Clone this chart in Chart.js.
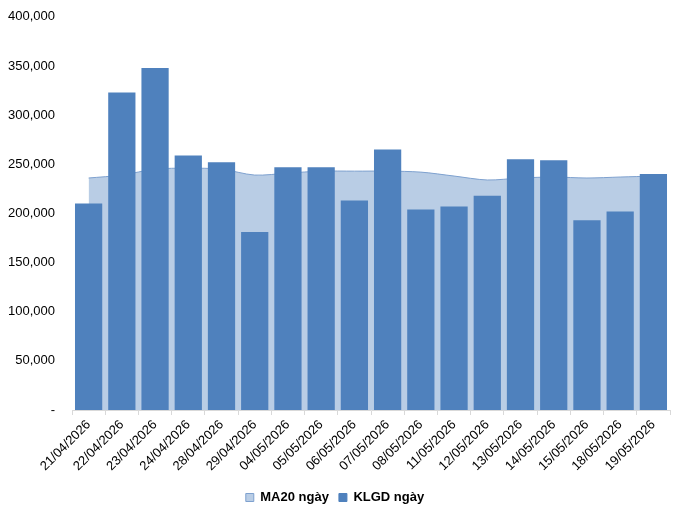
<!DOCTYPE html>
<html>
<head>
<meta charset="utf-8">
<script src="https://cdn.jsdelivr.net/npm/chart.js@4"></script>
<style>
  html, body { margin: 0; padding: 0; background: #fff; }
  #wrap { width: 677px; height: 509px; }
</style>
</head>
<body>
<div id="wrap"><canvas id="chart" width="677" height="509"></canvas></div>
<script>
// dates on the x axis
const dates = [
  '21/04/2026', '22/04/2026', '23/04/2026', '24/04/2026', '28/04/2026', '29/04/2026',
  '04/05/2026', '05/05/2026', '06/05/2026', '07/05/2026', '08/05/2026', '11/05/2026',
  '12/05/2026', '13/05/2026', '14/05/2026', '15/05/2026', '18/05/2026', '19/05/2026'
];
// daily volume (bars)
const klgd = [
  210000, 323000, 348000, 259000, 252000, 181000, 247000, 247000, 213000,
  265000, 204000, 207000, 218000, 255000, 254000, 193000, 202000, 240000
];
// 20-day moving average (area)
const ma20 = [
  236000, 239000, 245000, 246000, 245000, 239000, 241000, 243000, 243000,
  243000, 242000, 238000, 234000, 236000, 237000, 236000, 237000, 238000
];
const yTicks = [0, 50000, 100000, 150000, 200000, 250000, 300000, 350000, 400000];

const fmt = v => v === 0 ? '-' : v.toLocaleString('en-US');

const ctx = document.getElementById('chart').getContext('2d');
new Chart(ctx, {
  type: 'bar',
  data: {
    labels: dates,
    datasets: [
      {
        type: 'line',
        label: 'MA20 ngày',
        data: ma20,
        fill: 'origin',
        backgroundColor: '#B9CDE5',
        borderColor: '#7EA1CF',
        borderWidth: 1,
        pointRadius: 0,
        tension: 0.3,
        order: 2
      },
      {
        label: 'KLGD ngày',
        data: klgd,
        backgroundColor: '#4F81BD',
        barPercentage: 0.82,
        categoryPercentage: 1,
        order: 1
      }
    ]
  },
  options: {
    responsive: false,
    animation: false,
    layout: { padding: { left: 0, right: 7, top: 3, bottom: -5 } },
    plugins: {
      tooltip: { enabled: false },
      legend: {
        position: 'bottom',
        labels: {
          color: '#000',
          boxWidth: 8,
          boxHeight: 8,
          padding: 10,
          font: { family: 'Arial', size: 13, weight: 'bold' },
          generateLabels: chart => chart.data.datasets.map((ds, i) => ({
            text: ds.label,
            fillStyle: ds.backgroundColor,
            strokeStyle: i === 0 ? '#7EA1CF' : ds.backgroundColor,
            lineWidth: 1,
            datasetIndex: i
          }))
        }
      }
    },
    scales: {
      x: {
        offset: true,
        afterFit: axis => { axis.height = 71; },
        grid: {
          display: true,
          drawOnChartArea: false,
          offset: true,
          color: '#D9D9D9',
          tickLength: 5
        },
        border: { display: true, color: '#D9D9D9' },
        ticks: {
          autoSkip: false,
          minRotation: 45,
          maxRotation: 45,
          color: '#000',
          padding: 2,
          font: { family: 'Arial', size: 13 }
        }
      },
      y: {
        min: 0,
        max: 400000,
        afterBuildTicks: axis => { axis.ticks = yTicks.map(v => ({ value: v })); },
        afterFit: axis => { axis.width = 72; },
        grid: { display: false },
        border: { display: false },
        ticks: {
          color: '#000',
          padding: 9,
          font: { family: 'Arial', size: 13 },
          callback: v => fmt(v)
        }
      }
    }
  }
});
</script>
</body>
</html>
